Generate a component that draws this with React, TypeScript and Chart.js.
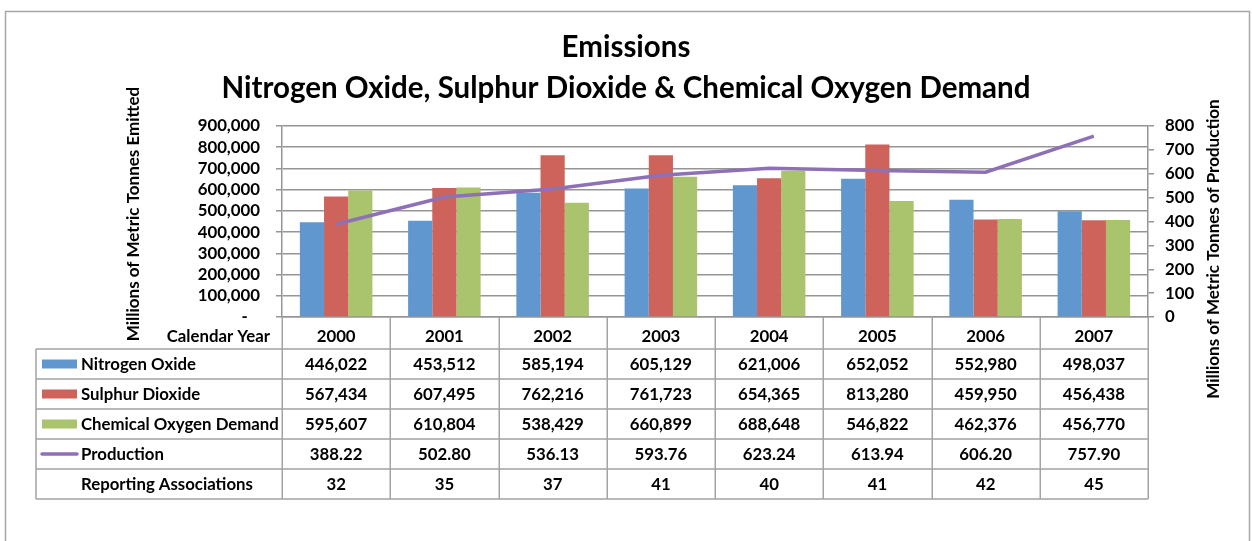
import React, { useEffect, useRef } from 'react';
import { Chart, registerables } from 'chart.js';

Chart.register(...registerables);

// ---- data ----
const years = ['2000', '2001', '2002', '2003', '2004', '2005', '2006', '2007'];
const nitrogenOxide = [446022, 453512, 585194, 605129, 621006, 652052, 552980, 498037];
const sulphurDioxide = [567434, 607495, 762216, 761723, 654365, 813280, 459950, 456438];
const chemicalOxygenDemand = [595607, 610804, 538429, 660899, 688648, 546822, 462376, 456770];
const production = [388.22, 502.8, 536.13, 593.76, 623.24, 613.94, 606.2, 757.9];
const reportingAssociations = [32, 35, 37, 41, 40, 41, 42, 45];

const leftTickLabels = ['-', '100,000', '200,000', '300,000', '400,000', '500,000', '600,000', '700,000', '800,000', '900,000'];
const rightTickLabels = ['0', '100', '200', '300', '400', '500', '600', '700', '800'];

const titleLines = ['Emissions', 'Nitrogen Oxide, Sulphur Dioxide & Chemical Oxygen Demand'];
const leftAxisTitle = 'Millions of Metric Tonnes Emitted';
const rightAxisTitle = 'Millions of Metric Tonnes of Production';
const xAxisTitle = 'Calendar Year';
const seriesNames = ['Nitrogen Oxide', 'Sulphur Dioxide', 'Chemical Oxygen Demand', 'Production'];
const extraRowName = 'Reporting Associations';

// ---- styles ----
const FONT = 'Lato, "Liberation Sans", sans-serif';
const BLUE = '#6097CE';
const RED = '#CE635B';
const GREEN = '#AAC46E';
const PURPLE = '#8E70B6';
const GRID = '#959595';
const TABLE_LINE = '#A3A3A3';
const TXT = 16.8;

const fmtInt = (v: number) => v.toLocaleString('en-US');

const tablePlugin = {
  id: 'excelTable',
  beforeDraw(chart: any) {
    const ctx = chart.ctx;
    ctx.save();
    ctx.fillStyle = '#ffffff';
    ctx.fillRect(0, 0, chart.width, chart.height);
    ctx.strokeStyle = '#A8A8A8';
    ctx.lineWidth = 1.5;
    ctx.beginPath();
    ctx.moveTo(5.5, chart.height + 5);
    ctx.lineTo(5.5, 11.5);
    ctx.lineTo(1249.5, 11.5);
    ctx.lineTo(1249.5, chart.height + 5);
    ctx.stroke();
    ctx.restore();
  },
  afterDraw(chart: any) {
    const ctx = chart.ctx;
    const xs = chart.scales.x;
    const n = years.length;
    const step = (xs.right - xs.left) / n;
    const top = chart.chartArea.bottom;
    const headerBottom = top + 32;
    const rowH = 30;
    const rows = 5;
    const tableBottom = headerBottom + rows * rowH;
    const tableLeft = 36;

    ctx.save();
    ctx.strokeStyle = TABLE_LINE;
    ctx.lineWidth = 1.5;
    ctx.beginPath();
    for (let i = 0; i <= n; i++) {
      const x = Math.round(xs.left + i * step) + 0.25;
      ctx.moveTo(x, top);
      ctx.lineTo(x, tableBottom);
    }
    ctx.moveTo(tableLeft, headerBottom);
    ctx.lineTo(tableLeft, tableBottom);
    for (let r = 0; r <= rows; r++) {
      const y = headerBottom + r * rowH;
      ctx.moveTo(tableLeft, y);
      ctx.lineTo(xs.right, y);
    }
    ctx.stroke();

    ctx.fillStyle = '#000';
    ctx.font = `bold ${TXT}px ${FONT}`;
    ctx.textBaseline = 'middle';
    ctx.textAlign = 'right';
    ctx.fillText(xAxisTitle, 270, top + 19.5);

    const keyColors = [BLUE, RED, GREEN];
    const rowValues: string[][] = [
      nitrogenOxide.map(fmtInt),
      sulphurDioxide.map(fmtInt),
      chemicalOxygenDemand.map(fmtInt),
      production.map((v) => v.toFixed(2)),
      reportingAssociations.map((v) => String(v)),
    ];
    const rowNames = [...seriesNames, extraRowName];
    for (let r = 0; r < rows; r++) {
      const cy = headerBottom + r * rowH + rowH / 2 + 1;
      if (r < 3) {
        ctx.fillStyle = keyColors[r];
        ctx.fillRect(42, cy - 5.5, 35, 9);
      } else if (r === 3) {
        ctx.strokeStyle = PURPLE;
        ctx.lineWidth = 3.5;
        ctx.lineCap = 'round';
        ctx.beginPath();
        ctx.moveTo(42, cy - 1);
        ctx.lineTo(77, cy - 1);
        ctx.stroke();
      }
      ctx.fillStyle = '#000';
      ctx.textAlign = 'left';
      ctx.fillText(rowNames[r], 81, cy);
      ctx.textAlign = 'center';
      for (let i = 0; i < n; i++) {
        ctx.fillText(rowValues[r][i], xs.getPixelForValue(i), cy);
      }
    }

    ctx.font = `bold 17px ${FONT}`;
    ctx.textAlign = 'center';
    ctx.textBaseline = 'middle';
    ctx.save();
    ctx.translate(134, 214);
    ctx.rotate(-Math.PI / 2);
    ctx.fillText(leftAxisTitle, 0, 0);
    ctx.restore();
    ctx.save();
    ctx.translate(1214, 249);
    ctx.rotate(-Math.PI / 2);
    ctx.fillText(rightAxisTitle, 0, 0);
    ctx.restore();
    ctx.restore();
  },
};

export default function App() {
  const canvasRef = useRef<HTMLCanvasElement | null>(null);

  useEffect(() => {
    const canvas = canvasRef.current;
    if (!canvas) return;
    const chart = new Chart(canvas, {
      type: 'bar',
      data: {
        labels: years,
        datasets: [
          {
            type: 'line',
            label: seriesNames[3],
            data: production,
            yAxisID: 'y1',
            borderColor: PURPLE,
            backgroundColor: PURPLE,
            borderWidth: 3.5,
            pointRadius: 0,
            tension: 0,
            order: 0,
          } as any,
          { label: seriesNames[0], data: nitrogenOxide, backgroundColor: BLUE, yAxisID: 'y', order: 1 },
          { label: seriesNames[1], data: sulphurDioxide, backgroundColor: RED, yAxisID: 'y', order: 1 },
          { label: seriesNames[2], data: chemicalOxygenDemand, backgroundColor: GREEN, yAxisID: 'y', order: 1 },
        ],
      },
      options: {
        responsive: false,
        animation: false,
        devicePixelRatio: 1,
        layout: { padding: 0 },
        datasets: {
          bar: { categoryPercentage: 0.67, barPercentage: 1 },
        },
        plugins: {
          legend: { display: false },
          tooltip: { enabled: false },
          title: {
            display: true,
            text: titleLines,
            color: '#000',
            font: { family: FONT, size: 29.5, weight: 'bold', lineHeight: 1.39 },
            padding: { top: 26.5, bottom: 17.5 },
          },
        },
        scales: {
          x: {
            type: 'category',
            grid: { display: false, drawTicks: false },
            border: { display: true, color: GRID, width: 1.5 },
            ticks: { color: '#000', font: { family: FONT, size: TXT, weight: 'bold' }, padding: 9.5, autoSkip: false, maxRotation: 0 },
            afterFit: (s: any) => { s.height = 224; },
          },
          y: {
            type: 'linear',
            position: 'left',
            min: 0,
            max: 900000,
            ticks: {
              stepSize: 100000,
              autoSkip: false,
              color: '#000',
              font: { family: FONT, size: TXT, weight: 'bold' },
              padding: 16,
              callback: (_v: any, i: number) => (leftTickLabels[i] === '-' ? '-   ' : leftTickLabels[i]),
            },
            grid: { color: GRID, lineWidth: 1.5, tickLength: 6, drawTicks: true },
            border: { display: true, color: GRID, width: 1.5 },
            afterFit: (s: any) => { s.width = 282; },
          },
          y1: {
            type: 'linear',
            position: 'right',
            min: 0,
            max: 800,
            ticks: {
              stepSize: 100,
              autoSkip: false,
              color: '#000',
              font: { family: FONT, size: TXT, weight: 'bold' },
              padding: 11,
              callback: (_v: any, i: number) => rightTickLabels[i],
            },
            grid: { drawOnChartArea: false, color: GRID, lineWidth: 1.5, tickLength: 6 },
            border: { display: true, color: GRID, width: 1.5 },
            afterFit: (s: any) => { s.width = 104; },
          },
        },
      } as any,
      plugins: [tablePlugin],
    });
    return () => chart.destroy();
  }, []);

  return (
    <div style={{ position: 'fixed', left: 0, top: 0, width: 1252, height: 541, background: '#fff' }}>
      <canvas ref={canvasRef} width={1252} height={541} style={{ display: 'block', width: 1252, height: 541 }} />
    </div>
  );
}
